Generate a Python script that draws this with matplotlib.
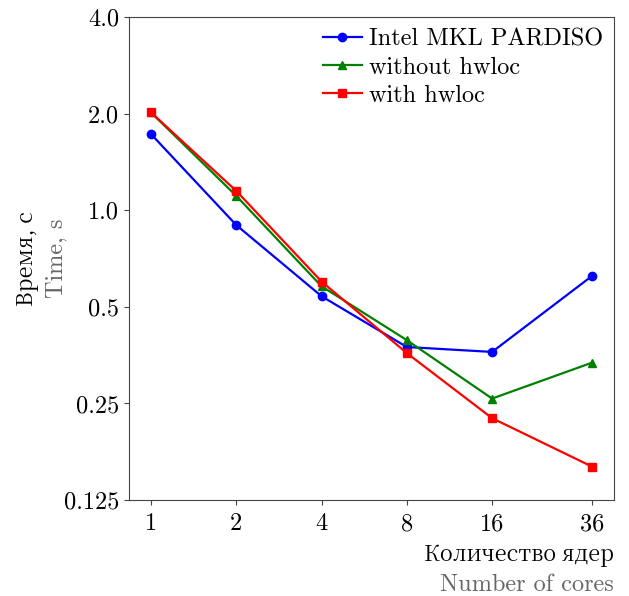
import matplotlib
matplotlib.use("Agg")
import matplotlib.pyplot as plt
from matplotlib.ticker import FixedLocator, FixedFormatter, NullLocator

plt.rcParams['font.family'] = ['cmr10', 'Noto Serif CJK SC']
plt.rcParams['axes.formatter.use_mathtext'] = True

cores = [1, 2, 4, 8, 16, 36]
mkl = [1.73, 0.90, 0.54, 0.375, 0.362, 0.624]
no_hwloc = [2.02, 1.11, 0.58, 0.394, 0.259, 0.335]
hwloc = [2.02, 1.15, 0.60, 0.359, 0.225, 0.159]
yticks = [0.125, 0.25, 0.5, 1.0, 2.0, 4.0]
ytick_labels = ['0.125', '0.25', '0.5', '1.0', '2.0', '4.0']

fig = plt.figure(figsize=(6.29, 5.96), dpi=100)
ax = fig.add_axes([0.205, 0.161, 0.771, 0.81])

ax.plot(cores, mkl, color='blue', marker='o', markersize=6, lw=1.6, label='Intel MKL PARDISO')
ax.plot(cores, no_hwloc, color='green', marker='^', markersize=6, lw=1.6, label='without hwloc')
ax.plot(cores, hwloc, color='red', marker='s', markersize=6, lw=1.6, label='with hwloc')

ax.set_xscale('log', base=2)
ax.set_yscale('log', base=2)
ax.xaxis.set_major_locator(FixedLocator(cores))
ax.xaxis.set_major_formatter(FixedFormatter([str(c) for c in cores]))
ax.xaxis.set_minor_locator(NullLocator())
ax.set_ylim(0.125, 4.0)
ax.yaxis.set_major_locator(FixedLocator(yticks))
ax.yaxis.set_major_formatter(FixedFormatter(ytick_labels))
ax.yaxis.set_minor_locator(NullLocator())
ax.tick_params(labelsize=17.5, color='#444444')
ax.tick_params(axis='x', pad=6)
for s in ax.spines.values():
    s.set_color('#444444')

ax.legend(loc='upper right', frameon=False, fontsize=17.5, handlelength=1.6,
          handletextpad=0.3, labelspacing=0.25, borderaxespad=0.05)

# two-line axis labels: russian in black, english in gray
cyr = 'Noto Serif CJK SC'
fig.text(0.043, 0.567, 'Время, с', rotation=90, fontsize=15.7, family=cyr,
         ha='center', va='center')
fig.text(0.09, 0.567, 'Time, s', rotation=90, fontsize=17.5, color='#666666', ha='center', va='center')
fig.text(0.976, 0.058, 'Количество ядер', fontsize=15.7, family=cyr,
         ha='right', va='baseline')
fig.text(0.976, 0.008, 'Number of cores', fontsize=17.5, color='#666666', ha='right', va='baseline')

fig.savefig('out.png', dpi=100)
